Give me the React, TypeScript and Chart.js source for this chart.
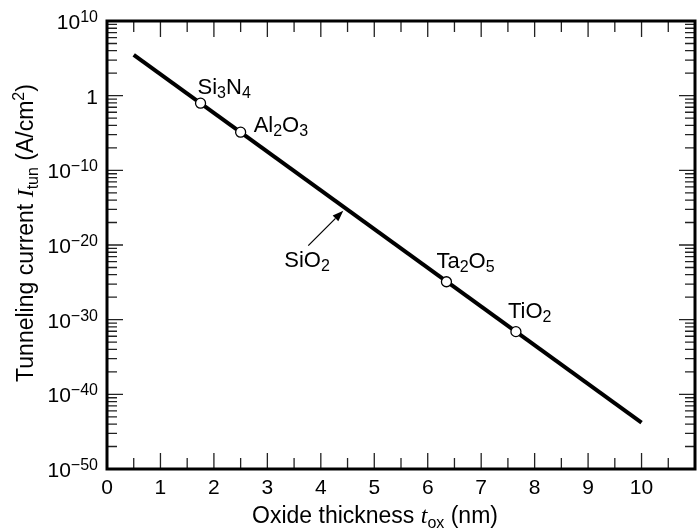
import React, { useEffect, useRef } from "react";
import { Chart, registerables } from "chart.js";

Chart.register(...registerables);

// ---- data ----
const lineX = [0.5, 10];
const lineY = [3e5, 1.6e-44];

const materials = ["Si3N4", "Al2O3", "Ta2O5", "TiO2"];
const materialX = [1.75, 2.5, 6.35, 7.65];
const materialY = [1e-1, 1.3e-5, 1.2e-25, 2.5e-32];

const sio2Label = "SiO2";
const sio2X = 4.42;
const sio2Y = 4e-16;

const xTickValues = [0, 1, 2, 3, 4, 5, 6, 7, 8, 9, 10, 11];
const xTickLabels = ["0", "1", "2", "3", "4", "5", "6", "7", "8", "9", "10", ""];
const xMinorValues = [0.5, 1.5, 2.5, 3.5, 4.5, 5.5, 6.5, 7.5, 8.5, 9.5, 10.5];

const yTickExponents = [10, 0, -10, -20, -30, -40, -50];
const yTickBase = ["10", "1", "10", "10", "10", "10", "10"];
const yTickSup = ["10", "", "\u221210", "\u221220", "\u221230", "\u221240", "\u221250"];

const xTitle = ["Oxide thickness ", "t", "ox", " (nm)"];
const yTitle = ["Tunneling current ", "I", "tun", " (A/cm", "2", ")"];

// ---- styles ----
const SANS = '"Liberation Sans", Arial, Helvetica, sans-serif';
const SERIF = '"Liberation Serif", "Times New Roman", serif';
const labelDx = [-3, 13, -10, -8];
const labelDy = [-9, 0, -14, -14];

type Part = { text: string; font: string; dy: number };

function drawRich(ctx: CanvasRenderingContext2D, parts: Part[], x: number, y: number, align: string) {
  let w = 0;
  for (const p of parts) {
    ctx.font = p.font;
    w += ctx.measureText(p.text).width;
  }
  let cx = align === "left" ? x : align === "center" ? x - w / 2 : x - w;
  ctx.textAlign = "left";
  ctx.textBaseline = "alphabetic";
  for (const p of parts) {
    ctx.font = p.font;
    ctx.fillText(p.text, cx, y + p.dy);
    cx += ctx.measureText(p.text).width;
  }
}

function formulaParts(s: string, size: number, subSize: number, subDy: number): Part[] {
  const out: Part[] = [];
  const re = /(\d+|\D+)/g;
  let m: RegExpExecArray | null;
  while ((m = re.exec(s))) {
    const t = m[0];
    if (/^\d+$/.test(t)) out.push({ text: t, font: `${subSize}px ${SANS}`, dy: subDy });
    else out.push({ text: t, font: `${size}px ${SANS}`, dy: 0 });
  }
  return out;
}

const decorPlugin = {
  id: "decor",
  afterDatasetsDraw(chart: any) {
    const ctx: CanvasRenderingContext2D = chart.ctx;
    const xs = chart.scales.x;
    const ys = chart.scales.y;
    const { left, right, top, bottom } = chart.chartArea;
    ctx.save();
    ctx.fillStyle = "#000";
    ctx.strokeStyle = "#000";

    // ticks
    ctx.lineWidth = 1.3;
    ctx.strokeStyle = "#222";
    const vTick = (x: number, len: number) => {
      ctx.beginPath();
      ctx.moveTo(x, bottom);
      ctx.lineTo(x, bottom - len);
      ctx.moveTo(x, top);
      ctx.lineTo(x, top + len);
      ctx.stroke();
    };
    const hTick = (y: number, len: number) => {
      ctx.beginPath();
      ctx.moveTo(left, y);
      ctx.lineTo(left + len, y);
      ctx.moveTo(right, y);
      ctx.lineTo(right - len, y);
      ctx.stroke();
    };
    xTickValues.forEach((v) => vTick(xs.getPixelForValue(v), 16));
    xMinorValues.forEach((v) => vTick(xs.getPixelForValue(v), 11));
    yTickExponents.forEach((e) => hTick(ys.getPixelForValue(Math.pow(10, e)), 16));
    for (let i = 1; i < yTickExponents.length; i++) {
      const base = yTickExponents[i];
      for (let m = 2; m <= 9; m++) {
        const e = base + 10 * Math.log10(m);
        hTick(ys.getPixelForValue(Math.pow(10, e)), 10);
      }
    }

    // frame
    ctx.strokeStyle = "#000";
    ctx.lineWidth = 3;
    ctx.strokeRect(left, top, right - left, bottom - top);

    // tick labels
    ctx.fillStyle = "#000";
    xTickValues.forEach((v, i) => {
      drawRich(ctx, [{ text: xTickLabels[i], font: `21px ${SANS}`, dy: 0 }], xs.getPixelForValue(v), bottom + 25, "center");
    });
    yTickExponents.forEach((e, i) => {
      const y = ys.getPixelForValue(Math.pow(10, e));
      const parts: Part[] = [{ text: yTickBase[i], font: `21px ${SANS}`, dy: 8 }];
      if (yTickSup[i]) parts.push({ text: yTickSup[i], font: `16px ${SANS}`, dy: 1 });
      drawRich(ctx, parts, left - 9, y, "right");
    });

    // axis titles
    drawRich(
      ctx,
      [
        { text: xTitle[0], font: `23px ${SANS}`, dy: 0 },
        { text: xTitle[1], font: `italic 24px ${SERIF}`, dy: 0 },
        { text: xTitle[2], font: `16px ${SANS}`, dy: 5 },
        { text: xTitle[3], font: `23px ${SANS}`, dy: 0 },
      ],
      375,
      523,
      "center"
    );
    ctx.save();
    ctx.translate(33, 233);
    ctx.rotate(-Math.PI / 2);
    drawRich(
      ctx,
      [
        { text: yTitle[0], font: `23px ${SANS}`, dy: 0 },
        { text: yTitle[1], font: `italic 24px ${SERIF}`, dy: 0 },
        { text: yTitle[2], font: `16px ${SANS}`, dy: 5 },
        { text: yTitle[3], font: `23px ${SANS}`, dy: 0 },
        { text: yTitle[4], font: `16px ${SANS}`, dy: -9 },
        { text: yTitle[5], font: `23px ${SANS}`, dy: 0 },
      ],
      0,
      0,
      "center"
    );
    ctx.restore();

    // material labels
    materials.forEach((name, i) => {
      const px = xs.getPixelForValue(materialX[i]);
      const py = ys.getPixelForValue(materialY[i]);
      drawRich(ctx, formulaParts(name, 22, 16, 4), px + labelDx[i], py + labelDy[i], "left");
    });

    // SiO2 arrow
    const tx = xs.getPixelForValue(sio2X);
    const ty = ys.getPixelForValue(sio2Y);
    const sx = tx - 35;
    const sy = ty + 35;
    const ang = Math.atan2(ty - sy, tx - sx);
    const hl = 11;
    const hw = 4;
    const bx = tx - hl * Math.cos(ang);
    const by = ty - hl * Math.sin(ang);
    ctx.lineWidth = 1.2;
    ctx.beginPath();
    ctx.moveTo(sx, sy);
    ctx.lineTo(bx, by);
    ctx.stroke();
    ctx.beginPath();
    ctx.moveTo(tx, ty);
    ctx.lineTo(bx + hw * Math.sin(ang), by - hw * Math.cos(ang));
    ctx.lineTo(bx - hw * Math.sin(ang), by + hw * Math.cos(ang));
    ctx.closePath();
    ctx.fill();
    drawRich(ctx, formulaParts(sio2Label, 22, 16, 4), tx - 59, ty + 56, "left");

    ctx.restore();
  },
};

export default function App() {
  const ref = useRef<HTMLCanvasElement | null>(null);
  useEffect(() => {
    if (!ref.current) return;
    const chart = new Chart(ref.current, {
      type: "line",
      data: {
        datasets: [
          {
            data: materialX.map((x, i) => ({ x, y: materialY[i] })),
            showLine: false,
            pointRadius: 5,
            pointBackgroundColor: "#fff",
            pointBorderColor: "#000",
            pointBorderWidth: 1.3,
            order: 0,
          },
          {
            data: lineX.map((x, i) => ({ x, y: lineY[i] })),
            borderColor: "#000",
            borderWidth: 4,
            pointRadius: 0,
            fill: false,
            tension: 0,
            order: 1,
          },
        ],
      },
      options: {
        animation: false,
        responsive: false,
        events: [],
        devicePixelRatio: 1,
        layout: { autoPadding: false, padding: { left: 107, right: 4, top: 21, bottom: 59 } },
        plugins: { legend: { display: false }, tooltip: { enabled: false } },
        scales: {
          x: { type: "linear", min: 0, max: 11, display: false },
          y: { type: "logarithmic", min: 1e-50, max: 1e10, display: false },
        },
      },
      plugins: [decorPlugin],
    });
    return () => chart.destroy();
  }, []);
  return (
    <div style={{ position: "fixed", left: 0, top: 0, width: 699, height: 528, background: "#fff" }}>
      <canvas ref={ref} width={699} height={528} style={{ width: 699, height: 528 }} />
    </div>
  );
}
